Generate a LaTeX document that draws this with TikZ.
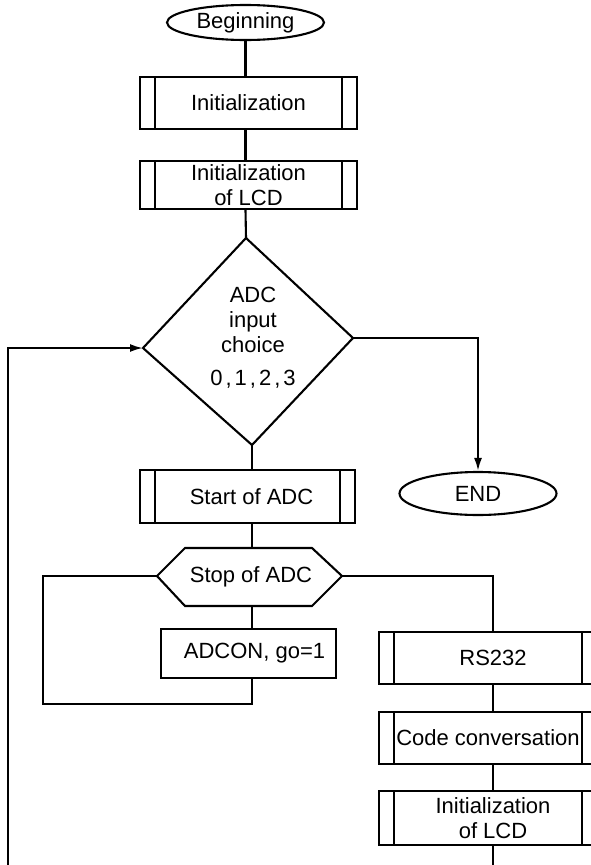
\documentclass[tikz,border=0pt]{standalone}
\usepackage{fontspec}
\setmainfont{Liberation Sans}
\usetikzlibrary{arrows.meta,shapes.geometric}
\begin{document}
\begin{tikzpicture}[x=1pt,y=-1pt,line width=2.1pt,
  font=\fontsize{22}{25}\selectfont,
  every node/.style={inner sep=0pt},
  terminal/.style={draw,ellipse,minimum width=157pt,minimum height=#1},
  subproc/.style={draw,rectangle,minimum width=#1,minimum height=52pt,align=center,
    path picture={
      \draw ([xshift=15pt]path picture bounding box.north west) -- ([xshift=15pt]path picture bounding box.south west);
      \draw ([xshift=-15pt]path picture bounding box.north east) -- ([xshift=-15pt]path picture bounding box.south east);}},
  procbox/.style={draw,rectangle,minimum width=175pt,minimum height=49pt},
  arr/.style={-{Latex[length=13pt,width=8pt]}}]
\useasboundingbox (0,0) rectangle (591,865);
\clip (0,0) rectangle (591,865);

% main column
\node[terminal=35pt] (begin) at (245.5,22.5) {Beginning};
\node[subproc=217pt] (init1) at (248.5,103) {Initialization};
\node[subproc=217pt,minimum height=48pt] (init2) at (248.5,185) {Initialization\\of LCD};

% decision
\coordinate (dT) at (246,238);
\coordinate (dL) at (143,348);
\coordinate (dR) at (353,338);
\coordinate (dB) at (252,445);
\draw (dT) -- (dR) -- (dB) -- (dL) -- cycle;
\node[align=center] (choice) at (253,338) {ADC\\input\\choice\\[8pt]0\hspace{3pt},\hspace{3pt}1\hspace{3pt},\hspace{3pt}2\hspace{3pt},\hspace{3pt}3};

\node[subproc=215pt,minimum height=53pt] (start) at (247.5,496.5) {\hspace*{8pt}Start of ADC};

% preparation hexagon
\coordinate (sL) at (157,576);
\coordinate (sR) at (342,576);
\coordinate (sT) at (252,548);
\coordinate (sB) at (252,606);
\draw (sL) -- (185,548) -- (312,548) -- (sR) -- (312,606) -- (185,606) -- cycle;
\node (stop) at (251,577) {Stop of ADC};

\node[procbox] (adcon) at (248.5,653.5) {\hspace*{12pt}ADCON, go=1};

% right column
\node[subproc=218pt] (rs) at (488,658) {\hspace*{10pt}RS232};
\node[subproc=218pt] (code) at (488,738) {Code conversation};
\node[subproc=218pt,minimum height=54pt] (init3) at (488,818) {\hspace*{10pt}Initialization\\\hspace*{10pt}of LCD};

\node[terminal=43pt] (end) at (478,493.5) {END};

% connectors
\coordinate (rcol) at (493,576);
\coordinate (lp) at (43,704);
\coordinate (fb) at (8,875);
\coordinate (rb) at (493,875);

\draw (begin.south) -- (begin.south |- init1.north);
\draw (begin.south |- init1.south) -- (begin.south |- init2.north);
\draw (begin.south |- init2.south) -- (dT);
\draw (dB) -- (dB |- start.north);
\draw (dB |- start.south) -- (sT);
\draw (sB) -- (sB |- adcon.north);
\draw (sL) -| (lp) -| (sB |- adcon.south);
\draw (sR) -- (rcol) -- (rcol |- rs.north);
\draw (rcol |- rs.south) -- (rcol |- code.north);
\draw (rcol |- code.south) -- (rcol |- init3.north);
\draw (rcol |- init3.south) -- (rb);
\draw[arr] (dR) -| (end.north);
\draw[arr] (fb) |- (dL);
\end{tikzpicture}
\end{document}
